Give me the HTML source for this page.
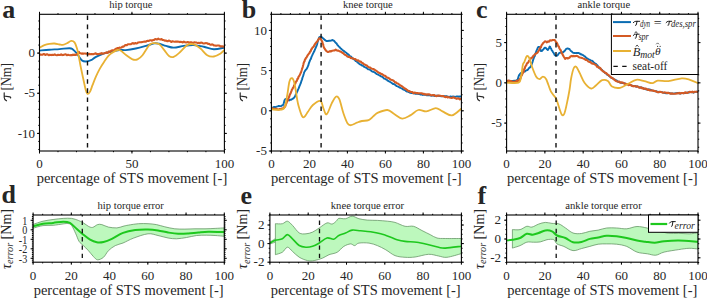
<!DOCTYPE html>
<html><head><meta charset="utf-8"><style>
html,body{margin:0;padding:0;background:#fff;width:707px;height:298px;overflow:hidden}
svg{display:block}
</style></head><body>
<svg width="707" height="298" viewBox="0 0 707 298">
<rect width="707" height="298" fill="#fff"/>
<defs>
<clipPath id="ca"><rect x="39.5" y="14.3" width="184.9" height="136.7"/></clipPath>
<clipPath id="cb"><rect x="271.4" y="14.3" width="190.0" height="136.7"/></clipPath>
<clipPath id="cc"><rect x="506.6" y="14.3" width="191.39999999999998" height="136.7"/></clipPath>
<clipPath id="cd"><rect x="33.1" y="215.0" width="191.20000000000002" height="47.19999999999999"/></clipPath>
<clipPath id="ce"><rect x="269.9" y="215.0" width="191.5" height="47.19999999999999"/></clipPath>
<clipPath id="cf"><rect x="506.6" y="215.0" width="191.39999999999998" height="47.19999999999999"/></clipPath>
</defs>
<g clip-path="url(#ca)">
<path d="M39.50,50.60 C41.15,50.45 46.07,49.95 49.40,49.70 C52.73,49.45 56.15,49.35 59.50,49.10 C62.85,48.85 67.27,48.15 69.50,48.20 C71.73,48.25 71.65,48.50 72.90,49.40 C74.15,50.30 75.53,51.80 77.00,53.60 C78.47,55.40 80.20,58.88 81.70,60.20 C83.20,61.52 84.45,61.50 86.00,61.50 C87.55,61.50 89.33,60.98 91.00,60.20 C92.67,59.42 93.80,57.93 96.00,56.80 C98.20,55.67 101.72,54.25 104.20,53.40 C106.68,52.55 108.38,52.27 110.90,51.70 C113.42,51.13 116.82,50.27 119.30,50.00 C121.78,49.73 123.05,50.35 125.80,50.10 C128.55,49.85 132.45,49.20 135.80,48.50 C139.15,47.80 142.83,46.75 145.90,45.90 C148.97,45.05 151.97,43.75 154.20,43.40 C156.43,43.05 157.33,43.38 159.30,43.80 C161.27,44.22 163.60,45.27 166.00,45.90 C168.40,46.53 170.73,47.60 173.70,47.60 C176.67,47.60 180.45,46.32 183.80,45.90 C187.15,45.48 190.45,44.95 193.80,45.10 C197.15,45.25 200.55,46.10 203.90,46.80 C207.25,47.50 210.48,49.17 213.90,49.30 C217.32,49.43 222.65,47.88 224.40,47.60" stroke="#0A6CB2" stroke-width="1.9" fill="none" stroke-linejoin="round" stroke-linecap="round" />
<path d="M39.50,54.31 L40.07,54.65 L40.74,54.47 L41.51,54.74 L42.36,54.77 L43.29,54.17 L44.29,54.13 L45.34,55.05 L46.44,54.42 L47.58,54.41 L48.75,55.26 L49.94,54.70 L51.14,55.12 L52.34,54.73 L53.53,54.92 L54.71,54.40 L55.86,54.94 L56.97,55.20 L58.04,54.82 L59.05,55.07 L60.00,54.99 L61.15,54.32 L62.30,55.08 L63.46,54.90 L64.62,54.59 L65.77,54.29 L66.90,55.21 L68.01,54.78 L69.09,55.05 L70.14,55.21 L71.15,55.02 L72.11,55.22 L73.02,54.61 L73.87,55.02 L74.65,54.58 L75.37,55.05 L76.00,54.92 L77.96,53.30 L78.48,52.37 L79.00,51.89 L79.35,52.96 L79.70,53.04 L82.00,53.74 L82.65,53.41 L83.40,53.66 L84.26,53.54 L85.20,53.52 L86.22,53.79 L87.30,53.79 L88.44,54.15 L89.61,53.90 L90.81,54.17 L92.03,54.08 L93.25,54.21 L94.47,53.85 L95.66,53.27 L96.83,54.01 L97.95,54.10 L99.02,54.00 L100.02,53.60 L100.94,53.72 L101.77,53.13 L102.50,53.76 L104.37,53.31 L105.63,52.80 L106.51,52.31 L107.21,52.90 L107.97,52.72 L109.00,51.35 L109.85,51.84 L110.74,51.08 L111.66,50.43 L112.60,50.21 L113.56,50.34 L114.53,50.06 L115.50,48.75 L116.46,48.99 L117.40,48.00 L118.45,48.34 L119.50,47.50 L120.55,47.69 L121.61,47.40 L122.66,46.48 L123.71,46.64 L124.75,45.52 L125.80,44.93 L126.84,45.20 L127.88,44.30 L128.92,44.22 L129.95,44.20 L130.98,44.19 L132.02,43.47 L133.06,43.12 L134.10,43.80 L135.15,42.97 L136.19,43.47 L137.24,43.20 L138.29,42.43 L139.35,42.32 L140.40,42.20 L141.45,42.15 L142.50,41.91 L143.55,41.68 L144.60,41.56 L145.65,41.74 L146.70,41.08 L147.75,40.83 L148.80,40.97 L149.85,40.28 L150.90,40.18 L151.95,40.75 L153.02,40.04 L154.08,39.86 L155.14,39.07 L156.20,39.34 L157.25,39.38 L158.28,38.68 L159.30,39.33 L160.42,39.44 L161.48,39.01 L162.53,39.91 L163.58,40.04 L164.65,40.59 L165.79,40.51 L167.00,41.13 L167.88,41.28 L168.77,40.61 L169.67,40.75 L170.59,41.52 L171.54,41.92 L172.52,41.21 L173.55,41.51 L174.64,41.74 L175.78,41.52 L177.00,41.65 L177.87,41.65 L178.78,41.77 L179.75,42.08 L180.75,41.81 L181.78,41.95 L182.83,42.44 L183.90,41.68 L184.98,42.33 L186.05,42.57 L187.12,42.15 L188.18,42.11 L189.21,42.79 L190.21,42.22 L191.18,42.21 L192.10,42.53 L193.30,42.87 L194.47,42.25 L195.60,42.52 L196.71,42.56 L197.79,43.13 L198.84,42.72 L199.88,43.21 L200.90,42.50 L201.91,42.74 L202.91,43.16 L203.90,43.52 L204.97,43.19 L206.01,43.11 L207.02,43.18 L208.01,43.84 L208.98,43.68 L209.95,44.59 L210.92,44.85 L211.90,44.35 L212.89,44.66 L213.90,45.44 L214.98,45.45 L216.14,45.82 L217.34,45.52 L218.57,45.48 L219.78,45.85 L220.93,46.58 L222.01,46.17 L222.96,46.40 L223.77,46.61 L224.40,46.71" stroke="#D45A24" stroke-width="2.1" fill="none" stroke-linejoin="round"/>
<path d="M39.50,47.70 C40.32,47.28 42.75,45.83 44.40,45.20 C46.05,44.57 47.73,44.18 49.40,43.90 C51.07,43.62 52.72,43.40 54.40,43.50 C56.08,43.60 58.10,44.27 59.50,44.50 C60.90,44.73 61.55,45.12 62.80,44.90 C64.05,44.68 65.60,43.87 67.00,43.20 C68.40,42.53 69.95,41.03 71.20,40.90 C72.45,40.77 73.53,41.12 74.50,42.40 C75.47,43.68 76.30,46.33 77.00,48.60 C77.70,50.87 78.08,52.97 78.70,56.00 C79.32,59.03 79.95,63.05 80.70,66.80 C81.45,70.55 82.35,74.60 83.20,78.50 C84.05,82.40 85.10,87.63 85.80,90.20 C86.50,92.77 86.72,93.62 87.40,93.90 C88.08,94.18 89.05,93.35 89.90,91.90 C90.75,90.45 91.52,87.72 92.50,85.20 C93.48,82.68 94.55,79.60 95.80,76.80 C97.05,74.00 98.60,70.92 100.00,68.40 C101.40,65.88 102.80,63.78 104.20,61.70 C105.60,59.62 107.00,57.43 108.40,55.90 C109.80,54.37 111.07,53.48 112.60,52.50 C114.13,51.52 116.20,50.28 117.60,50.00 C119.00,49.72 119.60,49.97 121.00,50.80 C122.40,51.63 124.08,53.58 126.00,55.00 C127.92,56.42 130.58,58.58 132.50,59.30 C134.42,60.02 135.83,59.98 137.50,59.30 C139.17,58.62 140.55,57.57 142.50,55.20 C144.45,52.83 147.38,47.12 149.20,45.10 C151.02,43.08 151.72,43.23 153.40,43.10 C155.08,42.97 157.48,43.13 159.30,44.30 C161.12,45.47 162.68,48.15 164.30,50.10 C165.92,52.05 167.43,54.88 169.00,56.00 C170.57,57.12 171.80,57.50 173.70,56.80 C175.60,56.10 178.17,53.75 180.40,51.80 C182.63,49.85 184.87,46.35 187.10,45.10 C189.33,43.85 191.57,43.73 193.80,44.30 C196.03,44.87 198.27,46.68 200.50,48.50 C202.73,50.32 204.97,53.87 207.20,55.20 C209.43,56.53 211.67,56.78 213.90,56.50 C216.13,56.22 218.85,54.57 220.60,53.50 C222.35,52.43 223.77,50.67 224.40,50.10" stroke="#E8B133" stroke-width="1.8" fill="none" stroke-linejoin="round" stroke-linecap="round" />
<line x1="87.5" y1="15.5" x2="87.5" y2="151.0" stroke="#111" stroke-width="1.4" stroke-dasharray="4.6,4.5" stroke-dashoffset="0"/>
</g>
<g clip-path="url(#cb)">
<path d="M271.40,108.14 L272.10,108.25 L273.08,107.37 L274.24,106.86 L275.46,107.10 L276.65,106.67 L277.70,106.44 L278.82,105.88 L279.91,106.20 L280.94,106.15 L281.88,105.48 L282.70,105.37 L283.24,104.68 L283.66,103.50 L284.00,102.21 L284.33,100.88 L284.71,99.93 L285.20,99.21 L286.11,98.93 L287.14,99.71 L288.25,99.98 L289.40,100.42 L290.22,99.61 L291.10,99.81 L292.01,99.15 L292.90,98.70 L293.74,97.97 L294.50,97.18 L295.07,96.19 L295.57,94.94 L296.03,94.53 L296.47,93.14 L296.90,92.20 L297.34,91.39 L297.80,90.22 L298.17,89.29 L298.55,88.79 L298.93,87.67 L299.31,86.57 L299.69,85.57 L300.07,85.04 L300.45,83.80 L300.83,83.01 L301.20,81.70 L301.54,80.62 L301.88,79.80 L302.22,78.90 L302.57,77.33 L302.91,76.64 L303.24,75.63 L303.57,74.50 L303.89,73.54 L304.20,72.10 L304.50,71.79 L305.14,70.82 L305.69,69.77 L306.27,69.43 L307.00,68.24 L307.31,67.73 L307.65,66.85 L308.00,66.00 L308.37,65.26 L308.75,63.70 L309.14,62.68 L309.54,61.66 L309.95,60.57 L310.36,59.46 L310.78,59.04 L311.20,57.95 L311.63,56.42 L312.08,55.72 L312.55,54.59 L313.03,53.58 L313.51,52.60 L313.99,51.81 L314.47,50.77 L314.93,49.62 L315.38,48.51 L315.80,47.64 L316.20,46.54 L316.60,45.75 L316.98,44.71 L317.34,43.28 L317.68,41.88 L318.00,40.79 L318.32,39.83 L318.63,38.99 L318.95,38.24 L319.27,37.24 L319.60,37.01 L320.74,36.53 L321.87,37.32 L323.00,38.31 L323.85,39.02 L324.69,39.89 L325.52,40.37 L326.30,41.04 L327.59,41.06 L329.00,40.72 L329.97,40.75 L331.06,40.60 L332.18,39.99 L333.20,40.35 L334.11,40.84 L334.96,41.92 L335.75,42.85 L336.50,43.31 L337.12,44.48 L337.64,45.23 L338.21,45.72 L339.00,46.77 L339.68,47.17 L340.45,48.30 L341.29,48.86 L342.19,49.72 L343.13,50.40 L344.10,51.12 L344.85,51.81 L345.62,52.36 L346.42,52.74 L347.24,53.81 L348.09,54.14 L348.97,55.00 L349.87,56.21 L350.80,56.48 L351.57,57.16 L352.37,57.83 L353.20,59.06 L354.04,59.27 L354.90,59.86 L355.77,61.13 L356.63,61.31 L357.50,62.49 L358.36,63.01 L359.20,63.74 L360.12,64.45 L361.02,64.78 L361.91,65.50 L362.80,65.51 L363.69,66.56 L364.60,66.92 L365.54,67.60 L366.50,67.74 L367.50,68.77 L368.37,69.41 L369.28,69.34 L370.24,70.07 L371.22,70.80 L372.21,71.55 L373.20,71.71 L374.17,72.21 L375.11,72.80 L376.00,73.56 L376.84,74.14 L377.60,74.33 L378.73,74.96 L379.57,75.46 L380.29,75.85 L381.06,76.35 L382.04,76.70 L383.40,77.80 L384.07,78.54 L384.81,78.59 L385.59,79.31 L386.43,79.42 L387.30,80.34 L388.21,80.95 L389.14,81.47 L390.10,81.95 L391.07,82.52 L392.04,83.23 L393.02,84.00 L393.99,84.05 L394.95,84.57 L395.89,85.56 L396.80,86.19 L397.70,86.41 L398.60,86.86 L399.50,87.56 L400.40,87.69 L401.30,88.24 L402.20,88.69 L403.10,89.45 L404.00,89.73 L404.90,90.13 L405.80,90.89 L406.70,91.50 L407.60,91.43 L408.50,92.09 L409.40,92.23 L410.30,92.85 L411.33,92.97 L412.37,93.02 L413.40,93.22 L414.43,93.28 L415.46,93.77 L416.49,93.85 L417.52,93.83 L418.55,94.08 L419.58,94.15 L420.61,94.57 L421.64,94.23 L422.67,94.93 L423.70,94.69 L424.73,94.89 L425.76,94.90 L426.79,95.26 L427.82,95.35 L428.85,95.25 L429.88,95.28 L430.92,95.52 L431.95,95.69 L432.98,95.45 L434.01,95.75 L435.04,95.98 L436.07,95.71 L437.10,95.61 L438.14,95.69 L439.19,96.10 L440.25,96.14 L441.31,96.42 L442.37,96.41 L443.43,96.05 L444.49,96.08 L445.54,96.20 L446.57,96.20 L447.59,96.62 L448.58,96.78 L449.55,96.85 L450.50,96.43 L451.73,96.89 L453.00,96.52 L454.27,96.61 L455.53,96.82 L456.74,96.36 L457.88,96.35 L458.94,96.86 L459.87,96.47 L460.67,96.50 L461.30,96.66" stroke="#0A6CB2" stroke-width="1.9" fill="none" stroke-linejoin="round"/>
<path d="M271.40,108.78 L272.03,108.13 L272.86,108.53 L273.86,108.72 L274.98,108.87 L276.17,108.69 L277.41,109.14 L278.64,109.55 L279.82,108.97 L280.92,109.05 L281.90,108.47 L282.70,108.37 L283.67,108.19 L284.42,106.89 L285.00,106.76 L285.47,105.77 L285.91,103.85 L286.36,103.54 L286.90,101.77 L287.32,101.30 L287.73,100.35 L288.13,98.91 L288.54,98.28 L288.95,97.21 L289.36,96.30 L289.78,94.70 L290.21,94.12 L290.65,93.28 L291.10,91.97 L291.52,90.92 L291.96,89.59 L292.40,89.06 L292.86,88.01 L293.31,87.47 L293.78,86.53 L294.24,85.51 L294.71,84.21 L295.17,83.77 L295.64,82.84 L296.10,81.48 L296.57,81.28 L297.05,80.13 L297.53,78.69 L298.02,78.59 L298.51,76.89 L299.00,76.17 L299.47,75.64 L299.94,74.60 L300.38,73.63 L300.80,72.79 L301.20,71.66 L301.56,70.55 L301.89,69.43 L302.18,68.33 L302.46,67.97 L302.73,67.00 L302.99,65.78 L303.25,64.98 L303.53,63.62 L303.82,62.57 L304.14,61.77 L304.50,61.37 L304.98,59.51 L305.50,58.99 L306.04,57.78 L306.61,57.38 L307.18,56.06 L307.77,55.16 L308.36,54.35 L308.94,53.62 L309.50,52.97 L310.06,51.67 L310.61,51.29 L311.16,49.69 L311.72,49.00 L312.27,47.98 L312.83,47.15 L313.38,46.99 L313.94,46.13 L314.50,44.78 L315.15,43.84 L315.83,43.04 L316.52,42.32 L317.21,41.38 L317.87,40.38 L318.51,39.44 L319.09,38.39 L319.60,38.30 L320.41,38.16 L321.01,39.29 L321.54,40.55 L322.10,41.50 L322.45,42.37 L322.79,43.86 L323.12,44.16 L323.47,46.02 L323.82,47.15 L324.20,48.16 L324.60,48.38 L325.29,49.67 L325.98,50.59 L326.83,51.28 L328.00,51.98 L328.90,51.69 L329.97,51.13 L331.14,51.41 L332.36,50.70 L333.57,50.50 L334.70,50.40 L335.70,49.60 L336.87,50.48 L337.89,50.64 L338.82,50.84 L339.74,51.33 L340.70,51.76 L341.53,51.96 L342.33,52.84 L343.14,52.94 L343.98,54.01 L344.86,54.77 L345.80,55.14 L346.67,55.75 L347.60,56.63 L348.56,57.06 L349.54,56.78 L350.54,57.91 L351.53,58.19 L352.50,58.05 L353.44,58.74 L354.37,58.93 L355.29,59.07 L356.22,59.83 L357.17,60.56 L358.16,60.34 L359.20,61.37 L360.04,61.64 L360.90,61.56 L361.78,62.81 L362.68,63.10 L363.60,64.01 L364.54,64.39 L365.50,65.02 L366.49,65.23 L367.50,66.31 L368.37,66.94 L369.28,67.42 L370.24,67.55 L371.22,68.45 L372.21,68.76 L373.20,68.96 L374.17,69.46 L375.11,70.04 L376.00,70.68 L376.84,71.12 L377.60,71.90 L378.73,72.73 L379.57,73.02 L380.29,73.28 L381.06,73.92 L382.04,74.12 L383.40,75.06 L384.07,75.75 L384.81,75.83 L385.59,76.08 L386.43,77.30 L387.30,77.64 L388.21,77.83 L389.14,78.40 L390.10,79.13 L391.07,79.79 L392.04,80.01 L393.02,80.38 L393.99,81.18 L394.95,82.34 L395.89,82.28 L396.80,83.16 L397.64,83.43 L398.48,84.00 L399.33,84.55 L400.17,85.37 L401.01,85.74 L401.86,86.20 L402.70,86.89 L403.55,87.54 L404.40,88.45 L405.24,88.59 L406.09,89.10 L406.93,90.04 L407.77,90.49 L408.62,91.24 L409.46,90.99 L410.30,91.70 L411.33,92.07 L412.37,92.01 L413.40,93.20 L414.43,92.65 L415.46,92.68 L416.49,93.19 L417.52,92.98 L418.55,93.53 L419.58,93.33 L420.61,93.19 L421.64,93.20 L422.67,93.99 L423.70,93.68 L424.73,94.34 L425.76,94.17 L426.79,94.79 L427.82,94.31 L428.85,94.41 L429.88,94.57 L430.92,95.27 L431.95,95.23 L432.98,95.09 L434.01,94.98 L435.04,95.71 L436.07,96.13 L437.10,95.89 L438.14,95.44 L439.19,95.59 L440.25,95.77 L441.31,95.97 L442.37,95.96 L443.43,96.10 L444.49,96.81 L445.54,97.18 L446.57,96.60 L447.59,97.49 L448.58,97.12 L449.55,97.57 L450.50,97.82 L451.73,98.03 L453.00,97.33 L454.27,97.81 L455.53,98.34 L456.74,98.90 L457.88,98.25 L458.94,98.65 L459.87,99.39 L460.67,98.80 L461.30,99.19" stroke="#D45A24" stroke-width="2.1" fill="none" stroke-linejoin="round"/>
<path d="M271.40,109.30 C273.43,109.22 281.02,110.87 283.60,108.80 C286.18,106.73 285.93,101.40 286.90,96.90 C287.87,92.40 288.55,84.93 289.40,81.80 C290.25,78.67 291.15,77.82 292.00,78.10 C292.85,78.38 293.67,80.10 294.50,83.50 C295.33,86.90 296.32,94.75 297.00,98.50 C297.68,102.25 297.77,103.08 298.60,106.00 C299.43,108.92 301.02,114.20 302.00,116.00 C302.98,117.80 303.52,117.50 304.50,116.80 C305.48,116.10 306.50,113.77 307.90,111.80 C309.30,109.83 310.82,106.82 312.90,105.00 C314.98,103.18 318.65,100.33 320.40,100.90 C322.15,101.47 322.35,106.17 323.40,108.40 C324.45,110.63 325.32,115.13 326.70,114.30 C328.08,113.47 330.17,106.33 331.70,103.40 C333.23,100.47 334.63,97.40 335.90,96.70 C337.17,96.00 338.03,96.40 339.30,99.20 C340.57,102.00 342.12,109.45 343.50,113.50 C344.88,117.55 346.35,121.55 347.60,123.50 C348.85,125.45 349.45,125.33 351.00,125.20 C352.55,125.07 355.08,123.40 356.90,122.70 C358.72,122.00 359.95,121.42 361.90,121.00 C363.85,120.58 366.65,121.03 368.60,120.20 C370.55,119.37 372.03,117.25 373.60,116.00 C375.17,114.75 375.70,113.70 378.00,112.70 C380.30,111.70 384.70,109.78 387.40,110.00 C390.10,110.22 391.73,112.57 394.20,114.00 C396.67,115.43 399.52,118.37 402.20,118.60 C404.88,118.83 407.62,116.83 410.30,115.40 C412.98,113.97 415.62,110.67 418.30,110.00 C420.98,109.33 423.48,111.72 426.40,111.40 C429.32,111.08 433.12,108.10 435.80,108.10 C438.48,108.10 439.82,110.18 442.50,111.40 C445.18,112.62 448.77,115.85 451.90,115.40 C455.03,114.95 459.73,109.82 461.30,108.70" stroke="#E8B133" stroke-width="1.8" fill="none" stroke-linejoin="round" stroke-linecap="round" />
<line x1="321.1" y1="15.5" x2="321.1" y2="151.0" stroke="#111" stroke-width="1.4" stroke-dasharray="4.6,4.5" stroke-dashoffset="0"/>
</g>
<g clip-path="url(#cc)">
<path d="M506.60,80.77 L507.28,81.03 L508.21,81.21 L509.33,80.58 L510.57,81.01 L511.86,80.97 L513.11,81.02 L514.27,80.75 L515.26,81.00 L516.00,80.49 L517.12,80.50 L517.40,79.58 L517.75,79.26 L518.13,77.97 L518.54,76.60 L519.00,75.30 L519.52,74.64 L520.10,73.68 L520.90,73.13 L521.80,72.49 L522.77,72.31 L523.78,71.74 L524.80,71.67 L525.56,70.63 L526.37,70.48 L527.20,70.15 L528.03,69.47 L528.84,68.30 L529.60,67.61 L530.30,67.17 L530.79,66.20 L531.23,65.50 L531.63,64.53 L532.02,63.18 L532.39,62.48 L532.77,61.25 L533.15,59.81 L533.56,58.72 L534.00,57.36 L534.39,56.63 L534.81,55.98 L535.24,54.12 L535.68,53.27 L536.13,51.69 L536.58,50.48 L537.02,49.83 L537.45,48.51 L537.86,47.51 L538.25,46.94 L538.60,46.92 L539.26,46.90 L539.81,47.46 L540.31,49.07 L540.82,50.97 L541.40,50.98 L542.08,50.92 L542.82,49.93 L543.58,49.13 L544.32,48.04 L545.00,47.73 L546.03,48.21 L546.96,49.34 L547.80,50.04 L548.47,48.97 L549.04,47.88 L549.70,46.49 L550.17,46.79 L550.67,48.35 L551.21,48.81 L551.78,50.50 L552.40,50.87 L553.08,52.20 L553.81,53.18 L554.57,54.78 L555.34,55.47 L556.10,55.91 L557.04,55.68 L558.00,54.79 L558.93,53.24 L559.80,52.68 L561.17,52.56 L562.70,52.19 L563.41,52.22 L564.21,51.20 L565.06,50.44 L565.95,49.07 L566.84,48.69 L567.70,48.37 L568.53,48.83 L569.33,48.94 L570.14,50.01 L570.98,51.05 L571.86,51.56 L572.80,52.54 L573.82,52.99 L574.91,52.85 L576.05,53.06 L577.21,53.06 L578.36,52.87 L579.50,53.28 L580.44,54.22 L581.37,54.20 L582.29,54.87 L583.22,55.24 L584.17,56.02 L585.16,56.66 L586.20,57.94 L587.05,58.28 L587.93,58.89 L588.84,59.47 L589.77,59.67 L590.72,60.45 L591.67,60.68 L592.62,61.18 L593.56,62.25 L594.50,62.92 L595.25,63.59 L595.98,63.90 L596.69,64.85 L597.40,65.31 L598.12,66.56 L598.85,67.30 L599.59,67.61 L600.36,68.94 L601.16,69.15 L602.01,69.89 L602.90,71.18 L603.64,71.46 L604.42,72.29 L605.22,73.06 L606.05,73.26 L606.90,74.51 L607.77,74.82 L608.65,75.62 L609.53,76.22 L610.42,77.19 L611.30,77.82 L612.18,78.05 L613.04,78.47 L613.88,79.16 L614.70,79.73 L615.72,80.01 L616.73,80.56 L617.72,81.48 L618.71,81.82 L619.68,82.40 L620.65,82.72 L621.62,82.94 L622.59,82.83 L623.56,82.95 L624.53,83.35 L625.50,83.77 L626.48,84.12 L627.45,84.40 L628.43,84.52 L629.40,85.16 L630.37,84.94 L631.34,85.32 L632.31,85.88 L633.28,86.04 L634.26,85.86 L635.23,86.05 L636.20,86.75 L637.17,86.35 L638.14,86.70 L639.12,87.26 L640.09,87.51 L641.06,87.47 L642.03,87.62 L643.00,87.99 L643.97,88.69 L644.95,88.69 L645.92,89.34 L646.90,89.43 L647.88,89.83 L648.86,89.32 L649.84,89.70 L650.82,89.81 L651.81,90.40 L652.79,90.58 L653.78,90.59 L654.76,91.22 L655.74,91.08 L656.72,91.46 L657.70,91.60 L658.77,92.24 L659.85,92.11 L660.92,92.16 L661.99,92.15 L663.06,92.61 L664.12,92.90 L665.19,93.06 L666.26,93.36 L667.33,93.37 L668.40,93.00 L669.47,92.97 L670.54,93.51 L671.61,93.56 L672.68,93.35 L673.74,93.60 L674.81,93.37 L675.88,93.13 L676.95,93.01 L678.03,92.85 L679.10,93.31 L680.19,93.47 L681.30,93.41 L682.42,92.99 L683.54,93.06 L684.66,93.18 L685.77,93.00 L686.86,92.73 L687.91,92.49 L688.93,92.49 L689.90,92.14 L691.10,92.06 L692.30,92.37 L693.49,92.53 L694.62,92.09 L695.67,91.90 L696.61,91.78 L697.39,91.81 L698.00,92.04" stroke="#0A6CB2" stroke-width="1.9" fill="none" stroke-linejoin="round"/>
<path d="M506.60,80.85 L507.22,81.43 L508.04,80.60 L509.01,80.86 L510.11,81.17 L511.28,81.14 L512.50,81.69 L513.70,81.69 L514.87,81.80 L515.95,81.38 L516.91,80.61 L517.70,80.98 L518.66,80.46 L519.40,79.74 L519.98,78.75 L520.46,78.34 L520.90,77.59 L521.36,75.66 L521.90,75.19 L522.32,74.02 L522.73,73.26 L523.13,72.68 L523.54,71.72 L523.95,70.31 L524.36,68.75 L524.78,68.50 L525.21,66.67 L525.65,65.94 L526.10,65.56 L526.68,64.01 L527.25,63.06 L527.84,62.96 L528.44,62.14 L529.07,60.68 L529.71,59.98 L530.39,59.08 L531.10,58.09 L531.77,57.49 L532.49,57.59 L533.24,55.90 L534.01,55.36 L534.78,54.62 L535.56,53.76 L536.33,53.49 L537.08,52.92 L537.80,52.17 L538.43,51.09 L539.06,50.34 L539.68,48.42 L540.30,47.66 L540.91,47.34 L541.50,45.32 L542.08,44.57 L542.64,43.92 L543.18,42.94 L543.70,42.65 L544.89,41.33 L545.96,41.44 L546.95,42.37 L547.90,41.41 L549.06,41.67 L550.13,40.20 L551.20,40.64 L552.33,40.08 L553.47,40.06 L554.60,40.01 L555.26,40.54 L555.92,42.15 L556.58,42.51 L557.24,43.62 L557.90,45.45 L558.38,46.37 L558.85,46.38 L559.32,48.34 L559.80,48.87 L560.29,49.71 L560.79,50.40 L561.30,51.68 L561.80,53.36 L562.27,53.72 L562.74,54.71 L563.24,55.82 L563.80,56.77 L564.44,57.77 L565.20,58.86 L565.97,58.03 L566.82,57.98 L567.75,58.43 L568.73,58.00 L569.74,57.46 L570.76,56.16 L571.79,55.91 L572.80,56.40 L573.80,55.88 L574.82,56.20 L575.86,55.92 L576.90,55.81 L577.95,56.43 L579.00,57.18 L580.05,57.55 L581.10,57.68 L582.03,57.91 L582.96,58.37 L583.89,58.69 L584.83,59.24 L585.76,60.04 L586.70,59.84 L587.63,60.78 L588.57,61.66 L589.50,62.08 L590.43,61.86 L591.37,63.25 L592.30,63.64 L593.23,63.44 L594.17,64.11 L595.10,64.62 L596.03,65.05 L596.97,66.68 L597.90,66.70 L598.74,67.82 L599.58,67.62 L600.42,68.17 L601.26,69.79 L602.10,70.40 L602.94,71.31 L603.78,71.67 L604.62,72.19 L605.46,73.13 L606.30,73.05 L607.13,74.20 L607.94,74.76 L608.74,75.10 L609.54,76.27 L610.35,76.62 L611.17,77.47 L612.00,77.95 L612.87,78.49 L613.76,79.11 L614.70,79.91 L615.59,80.78 L616.52,81.16 L617.48,81.49 L618.45,81.85 L619.45,81.61 L620.46,82.72 L621.48,82.28 L622.50,82.45 L623.51,83.18 L624.51,83.75 L625.50,83.63 L626.48,84.25 L627.45,84.13 L628.43,85.14 L629.40,84.83 L630.37,85.09 L631.34,85.38 L632.31,85.99 L633.28,86.33 L634.26,86.06 L635.23,86.20 L636.20,86.63 L637.17,86.27 L638.14,86.91 L639.12,87.62 L640.09,87.79 L641.06,87.25 L642.03,88.37 L643.00,88.10 L643.97,89.00 L644.95,88.57 L645.92,88.64 L646.90,89.25 L647.88,89.87 L648.86,89.62 L649.84,90.35 L650.82,90.44 L651.81,90.30 L652.79,90.49 L653.78,90.95 L654.76,91.07 L655.74,91.26 L656.72,91.78 L657.70,92.21 L658.77,92.09 L659.85,91.79 L660.92,92.04 L661.99,92.37 L663.06,92.79 L664.12,92.40 L665.19,92.46 L666.26,92.83 L667.33,92.88 L668.40,92.68 L669.47,93.30 L670.54,93.77 L671.61,93.37 L672.68,93.60 L673.74,93.70 L674.81,93.70 L675.88,93.76 L676.95,93.21 L678.03,93.44 L679.10,92.78 L680.19,93.57 L681.30,92.95 L682.42,92.99 L683.54,93.36 L684.66,92.60 L685.77,92.40 L686.86,93.01 L687.91,92.67 L688.93,92.02 L689.90,91.88 L691.10,92.15 L692.30,91.68 L693.49,92.50 L694.62,91.70 L695.67,91.72 L696.61,91.78 L697.39,91.86 L698.00,91.73" stroke="#D45A24" stroke-width="2.1" fill="none" stroke-linejoin="round"/>
<path d="M506.60,82.60 C508.60,82.60 516.18,83.58 518.60,82.60 C521.02,81.62 520.40,79.63 521.10,76.70 C521.80,73.77 522.25,67.47 522.80,65.00 C523.35,62.53 523.72,63.40 524.40,61.90 C525.08,60.40 526.05,56.57 526.90,56.00 C527.75,55.43 528.65,56.72 529.50,58.50 C530.35,60.28 530.88,63.67 532.00,66.70 C533.12,69.73 534.95,74.62 536.20,76.70 C537.45,78.78 538.38,79.20 539.50,79.20 C540.62,79.20 541.78,76.70 542.90,76.70 C544.02,76.70 544.85,76.70 546.20,79.20 C547.55,81.70 549.37,88.50 551.00,91.70 C552.63,94.90 554.60,95.60 556.00,98.40 C557.40,101.20 558.42,105.77 559.40,108.50 C560.38,111.23 561.07,113.97 561.90,114.80 C562.73,115.63 563.57,115.40 564.40,113.50 C565.23,111.60 566.05,107.32 566.90,103.40 C567.75,99.48 568.80,94.15 569.50,90.00 C570.20,85.85 570.42,82.08 571.10,78.50 C571.78,74.92 572.77,70.45 573.60,68.50 C574.43,66.55 575.12,66.12 576.10,66.80 C577.08,67.48 578.10,69.95 579.50,72.60 C580.90,75.25 582.55,80.05 584.50,82.70 C586.45,85.35 589.25,88.08 591.20,88.50 C593.15,88.92 594.38,86.58 596.20,85.20 C598.02,83.82 600.15,80.90 602.10,80.20 C604.05,79.50 606.25,79.95 607.90,81.00 C609.55,82.05 609.97,85.37 612.00,86.50 C614.03,87.63 617.40,88.25 620.10,87.80 C622.80,87.35 625.52,85.13 628.20,83.80 C630.88,82.47 633.52,80.25 636.20,79.80 C638.88,79.35 641.62,80.53 644.30,81.10 C646.98,81.67 650.07,83.28 652.30,83.20 C654.53,83.12 655.02,80.95 657.70,80.60 C660.38,80.25 664.38,81.47 668.40,81.10 C672.42,80.73 678.22,78.62 681.80,78.40 C685.38,78.18 687.20,79.00 689.90,79.80 C692.60,80.60 696.65,82.63 698.00,83.20" stroke="#E8B133" stroke-width="1.8" fill="none" stroke-linejoin="round" stroke-linecap="round" />
<line x1="556.0" y1="15.5" x2="556.0" y2="151.0" stroke="#111" stroke-width="1.4" stroke-dasharray="4.6,4.5" stroke-dashoffset="0"/>
</g>
<g clip-path="url(#cd)">
<path d="M33.10,224.40 C34.75,223.87 39.67,222.02 43.00,221.20 C46.33,220.38 49.73,219.97 53.10,219.50 C56.47,219.03 60.12,218.58 63.20,218.40 C66.28,218.22 69.08,218.07 71.60,218.40 C74.12,218.73 76.33,219.65 78.30,220.40 C80.27,221.15 81.72,221.92 83.40,222.90 C85.08,223.88 86.87,225.55 88.40,226.30 C89.93,227.05 91.07,227.68 92.60,227.40 C94.13,227.12 96.07,225.07 97.60,224.60 C99.13,224.13 99.98,224.18 101.80,224.60 C103.62,225.02 105.98,226.55 108.50,227.10 C111.02,227.65 114.48,228.03 116.90,227.90 C119.32,227.77 121.07,226.77 123.00,226.30 C124.93,225.83 125.90,225.53 128.50,225.10 C131.10,224.67 135.35,223.93 138.60,223.70 C141.85,223.47 145.03,223.55 148.00,223.70 C150.97,223.85 153.60,224.08 156.40,224.60 C159.20,225.12 161.73,226.10 164.80,226.80 C167.87,227.50 171.45,228.42 174.80,228.80 C178.15,229.18 181.53,229.10 184.90,229.10 C188.27,229.10 191.65,228.85 195.00,228.80 C198.35,228.75 201.65,228.87 205.00,228.80 C208.35,228.73 211.88,228.55 215.10,228.40 C218.32,228.25 222.77,227.98 224.30,227.90 L224.30,236.30 C222.77,236.17 218.03,235.68 215.10,235.50 C212.17,235.32 209.77,235.20 206.70,235.20 C203.63,235.20 200.05,235.12 196.70,235.50 C193.35,235.88 189.97,236.95 186.60,237.50 C183.23,238.05 179.58,238.72 176.50,238.80 C173.42,238.88 171.18,238.55 168.10,238.00 C165.02,237.45 161.35,236.20 158.00,235.50 C154.65,234.80 152.07,233.37 148.00,233.80 C143.93,234.23 137.77,236.57 133.60,238.10 C129.43,239.63 126.05,241.75 123.00,243.00 C119.95,244.25 117.72,244.33 115.30,245.60 C112.88,246.87 110.47,248.65 108.50,250.60 C106.53,252.55 105.32,255.77 103.50,257.30 C101.68,258.83 99.28,259.93 97.60,259.80 C95.92,259.67 94.93,258.03 93.40,256.50 C91.87,254.97 90.07,252.42 88.40,250.60 C86.73,248.78 84.95,247.13 83.40,245.60 C81.85,244.07 80.37,243.37 79.10,241.40 C77.83,239.43 77.05,236.47 75.80,233.80 C74.55,231.13 72.87,227.10 71.60,225.40 C70.33,223.70 69.60,223.85 68.20,223.60 C66.80,223.35 65.72,223.62 63.20,223.90 C60.68,224.18 56.47,225.02 53.10,225.30 C49.73,225.58 46.33,225.12 43.00,225.60 C39.67,226.08 34.75,227.77 33.10,228.20 Z" fill="#BDF8BD" stroke="#5F905F" stroke-width="0.75"/>
<path d="M33.10,226.30 C34.75,225.87 39.67,224.27 43.00,223.70 C46.33,223.13 49.73,223.23 53.10,222.90 C56.47,222.57 60.40,221.70 63.20,221.70 C66.00,221.70 67.67,221.72 69.90,222.90 C72.13,224.08 74.35,226.83 76.60,228.80 C78.85,230.77 81.15,232.88 83.40,234.70 C85.65,236.52 87.87,238.45 90.10,239.70 C92.33,240.95 94.57,241.83 96.80,242.20 C99.03,242.57 100.98,242.47 103.50,241.90 C106.02,241.33 108.65,240.30 111.90,238.80 C115.15,237.30 119.12,234.35 123.00,232.90 C126.88,231.45 131.03,230.65 135.20,230.10 C139.37,229.55 144.20,229.53 148.00,229.60 C151.80,229.67 154.65,230.02 158.00,230.50 C161.35,230.98 164.73,231.95 168.10,232.50 C171.47,233.05 174.83,233.63 178.20,233.80 C181.57,233.97 184.95,233.72 188.30,233.50 C191.65,233.28 194.95,232.78 198.30,232.50 C201.65,232.22 204.07,231.87 208.40,231.80 C212.73,231.73 221.65,232.05 224.30,232.10" stroke="#1EC81E" stroke-width="2.0" fill="none" stroke-linejoin="round" stroke-linecap="round" />
<line x1="82.3" y1="215.0" x2="82.3" y2="262.2" stroke="#111" stroke-width="1.3" stroke-dasharray="4.4,3.9" stroke-dashoffset="2.8"/>
</g>
<g clip-path="url(#ce)">
<path d="M269.9,242.0 L275.4,238.6 L275.4,242.2 L269.9,244.0Z" fill="#BDF8BD" stroke="#5F905F" stroke-width="0.6"/>
<path d="M275.40,223.70 C276.57,223.70 280.40,224.12 282.40,223.70 C284.40,223.28 285.72,220.92 287.40,221.20 C289.08,221.48 290.53,223.45 292.50,225.40 C294.47,227.35 296.97,231.50 299.20,232.90 C301.43,234.30 303.67,233.93 305.90,233.80 C308.13,233.67 310.37,233.08 312.60,232.10 C314.83,231.12 316.90,229.43 319.30,227.90 C321.70,226.37 324.88,223.53 327.00,222.90 C329.12,222.27 330.47,224.38 332.00,224.10 C333.53,223.82 335.07,222.15 336.20,221.20 C337.33,220.25 337.25,218.82 338.80,218.40 C340.35,217.98 343.27,219.07 345.50,218.70 C347.73,218.33 349.97,216.20 352.20,216.20 C354.43,216.20 356.38,218.05 358.90,218.70 C361.42,219.35 364.22,219.82 367.30,220.10 C370.38,220.38 374.05,220.22 377.40,220.40 C380.75,220.58 384.47,220.87 387.40,221.20 C390.33,221.53 392.05,221.55 395.00,222.40 C397.95,223.25 402.02,225.65 405.10,226.30 C408.18,226.95 410.70,225.60 413.50,226.30 C416.30,227.00 419.10,229.10 421.90,230.50 C424.70,231.90 427.78,233.45 430.30,234.70 C432.82,235.95 434.48,237.37 437.00,238.00 C439.52,238.63 441.33,238.42 445.40,238.50 C449.47,238.58 458.73,238.50 461.40,238.50 L461.40,253.60 C459.00,254.22 450.80,256.90 447.00,257.30 C443.20,257.70 441.67,256.50 438.60,256.00 C435.53,255.50 432.52,254.13 428.60,254.30 C424.68,254.47 419.02,256.50 415.10,257.00 C411.18,257.50 408.45,257.53 405.10,257.30 C401.75,257.07 398.22,256.85 395.00,255.60 C391.78,254.35 388.73,251.47 385.80,249.80 C382.87,248.13 380.20,246.72 377.40,245.60 C374.60,244.48 372.08,243.52 369.00,243.10 C365.92,242.68 361.28,242.68 358.90,243.10 C356.52,243.52 356.10,245.47 354.70,245.60 C353.30,245.73 352.32,243.77 350.50,243.90 C348.68,244.03 346.03,245.00 343.80,246.40 C341.57,247.80 339.57,250.92 337.10,252.30 C334.63,253.68 331.42,253.73 329.00,254.70 C326.58,255.67 325.07,257.12 322.60,258.10 C320.13,259.08 316.72,260.18 314.20,260.60 C311.68,261.02 310.00,261.17 307.50,260.60 C305.00,260.03 301.70,258.73 299.20,257.20 C296.70,255.67 294.47,253.07 292.50,251.40 C290.53,249.73 289.08,247.07 287.40,247.20 C285.72,247.33 284.40,250.95 282.40,252.20 C280.40,253.45 276.57,254.28 275.40,254.70 Z" fill="#BDF8BD" stroke="#5F905F" stroke-width="0.75"/>
<path d="M269.90,243.00 C270.82,242.55 273.32,241.00 275.40,240.30 C277.48,239.60 280.40,239.75 282.40,238.80 C284.40,237.85 285.72,234.60 287.40,234.60 C289.08,234.60 290.53,236.98 292.50,238.80 C294.47,240.62 296.97,244.10 299.20,245.50 C301.43,246.90 303.67,247.07 305.90,247.20 C308.13,247.33 310.37,247.00 312.60,246.30 C314.83,245.60 316.90,244.38 319.30,243.00 C321.70,241.62 324.60,238.63 327.00,238.00 C329.40,237.37 331.73,239.62 333.70,239.20 C335.67,238.78 336.83,236.53 338.80,235.50 C340.77,234.47 343.27,233.90 345.50,233.00 C347.73,232.10 349.68,230.47 352.20,230.10 C354.72,229.73 357.53,230.52 360.60,230.80 C363.67,231.08 367.25,231.30 370.60,231.80 C373.95,232.30 377.33,232.90 380.70,233.80 C384.07,234.70 388.08,236.22 390.80,237.20 C393.52,238.18 394.62,239.00 397.00,239.70 C399.38,240.40 401.80,240.98 405.10,241.40 C408.40,241.82 412.88,241.65 416.80,242.20 C420.72,242.75 424.97,243.85 428.60,244.70 C432.23,245.55 435.80,246.73 438.60,247.30 C441.40,247.87 441.60,248.28 445.40,248.10 C449.20,247.92 458.73,246.52 461.40,246.20" stroke="#1EC81E" stroke-width="1.6" fill="none" stroke-linejoin="round" stroke-linecap="round" />
<line x1="319.5" y1="215.0" x2="319.5" y2="262.2" stroke="#111" stroke-width="1.3" stroke-dasharray="4.4,3.9" stroke-dashoffset="2.8"/>
</g>
<g clip-path="url(#cf)">
<path d="M512.40,229.60 C513.68,229.60 517.70,230.15 520.10,229.60 C522.50,229.05 524.83,226.72 526.80,226.30 C528.77,225.88 529.93,227.47 531.90,227.10 C533.87,226.73 536.37,224.88 538.60,224.10 C540.83,223.32 543.07,222.52 545.30,222.40 C547.53,222.28 549.77,223.17 552.00,223.40 C554.23,223.63 556.47,223.05 558.70,223.80 C560.93,224.55 563.02,226.37 565.40,227.90 C567.78,229.43 570.33,232.07 573.00,233.00 C575.67,233.93 578.60,233.78 581.40,233.50 C584.20,233.22 587.00,231.87 589.80,231.30 C592.60,230.73 595.40,230.65 598.20,230.10 C601.00,229.55 603.53,228.35 606.60,228.00 C609.67,227.65 613.25,227.87 616.60,228.00 C619.95,228.13 623.30,229.05 626.70,228.80 C630.10,228.55 633.55,226.62 637.00,226.50 C640.45,226.38 643.93,227.38 647.40,228.10 C650.87,228.82 654.32,229.93 657.80,230.80 C661.28,231.67 664.82,232.88 668.30,233.30 C671.78,233.72 675.23,233.22 678.70,233.30 C682.17,233.38 685.88,233.87 689.10,233.80 C692.32,233.73 696.52,233.05 698.00,232.90 L698.00,249.00 C696.52,248.88 692.32,248.20 689.10,248.30 C685.88,248.40 682.87,248.97 678.70,249.60 C674.53,250.23 667.92,251.17 664.10,252.10 C660.28,253.03 658.58,254.92 655.80,255.20 C653.02,255.48 650.53,254.32 647.40,253.80 C644.27,253.28 640.45,253.33 637.00,252.10 C633.55,250.87 630.10,247.72 626.70,246.40 C623.30,245.08 619.95,244.62 616.60,244.20 C613.25,243.78 609.67,243.90 606.60,243.90 C603.53,243.90 601.00,243.78 598.20,244.20 C595.40,244.62 592.60,245.67 589.80,246.40 C587.00,247.13 584.20,247.90 581.40,248.60 C578.60,249.30 575.93,250.97 573.00,250.60 C570.07,250.23 566.47,247.52 563.80,246.40 C561.13,245.28 558.68,245.02 557.00,243.90 C555.32,242.78 555.37,240.40 553.70,239.70 C552.03,239.00 549.23,239.33 547.00,239.70 C544.77,240.07 542.55,241.48 540.30,241.90 C538.05,242.32 535.75,242.15 533.50,242.20 C531.25,242.25 529.03,241.63 526.80,242.20 C524.57,242.77 522.50,244.62 520.10,245.60 C517.70,246.58 513.68,247.68 512.40,248.10 Z" fill="#BDF8BD" stroke="#5F905F" stroke-width="0.75"/>
<path d="M506.60,240.50 C507.60,240.37 510.35,240.12 512.60,239.70 C514.85,239.28 517.73,238.98 520.10,238.00 C522.47,237.02 524.70,234.35 526.80,233.80 C528.90,233.25 530.73,234.83 532.70,234.70 C534.67,234.57 536.50,233.70 538.60,233.00 C540.70,232.30 543.07,230.78 545.30,230.50 C547.53,230.22 550.05,230.47 552.00,231.30 C553.95,232.13 554.77,234.38 557.00,235.50 C559.23,236.62 562.73,236.88 565.40,238.00 C568.07,239.12 570.33,241.55 573.00,242.20 C575.67,242.85 578.60,242.45 581.40,241.90 C584.20,241.35 587.00,239.63 589.80,238.90 C592.60,238.17 595.40,238.02 598.20,237.50 C601.00,236.98 603.53,236.00 606.60,235.80 C609.67,235.60 613.25,235.93 616.60,236.30 C619.95,236.67 623.30,237.28 626.70,238.00 C630.10,238.72 633.90,239.98 637.00,240.60 C640.10,241.22 642.35,241.35 645.30,241.70 C648.25,242.05 651.57,242.77 654.70,242.70 C657.83,242.63 660.10,241.65 664.10,241.30 C668.10,240.95 673.05,240.53 678.70,240.60 C684.35,240.67 694.78,241.52 698.00,241.70" stroke="#1EC81E" stroke-width="2.0" fill="none" stroke-linejoin="round" stroke-linecap="round" />
<line x1="556.2" y1="215.0" x2="556.2" y2="262.2" stroke="#111" stroke-width="1.3" stroke-dasharray="4.4,3.9" stroke-dashoffset="2.8"/>
</g>
<rect x="39.5" y="14.3" width="184.9" height="136.7" fill="none" stroke="#000" stroke-width="1.1"/>
<path d="M39.50,14.3v-1.2 M39.50,151.0v1.2 M57.99,14.3v-1.2 M57.99,151.0v1.2 M76.48,14.3v-1.2 M76.48,151.0v1.2 M94.97,14.3v-1.2 M94.97,151.0v1.2 M113.46,14.3v-1.2 M113.46,151.0v1.2 M131.95,14.3v-1.2 M131.95,151.0v1.2 M150.44,14.3v-1.2 M150.44,151.0v1.2 M168.93,14.3v-1.2 M168.93,151.0v1.2 M187.42,14.3v-1.2 M187.42,151.0v1.2 M205.91,14.3v-1.2 M205.91,151.0v1.2 M224.40,14.3v-1.2 M224.40,151.0v1.2 M39.50,14.3v-2.5 M39.50,151.0v2.5 M131.95,14.3v-2.5 M131.95,151.0v2.5 M224.40,14.3v-2.5 M224.40,151.0v2.5 M39.5,149.46h-1.2 M224.4,149.46h1.2 M39.5,141.43h-1.2 M224.4,141.43h1.2 M39.5,133.40h-1.2 M224.4,133.40h1.2 M39.5,125.37h-1.2 M224.4,125.37h1.2 M39.5,117.34h-1.2 M224.4,117.34h1.2 M39.5,109.31h-1.2 M224.4,109.31h1.2 M39.5,101.28h-1.2 M224.4,101.28h1.2 M39.5,93.25h-1.2 M224.4,93.25h1.2 M39.5,85.22h-1.2 M224.4,85.22h1.2 M39.5,77.19h-1.2 M224.4,77.19h1.2 M39.5,69.16h-1.2 M224.4,69.16h1.2 M39.5,61.13h-1.2 M224.4,61.13h1.2 M39.5,53.10h-1.2 M224.4,53.10h1.2 M39.5,45.07h-1.2 M224.4,45.07h1.2 M39.5,37.04h-1.2 M224.4,37.04h1.2 M39.5,29.01h-1.2 M224.4,29.01h1.2 M39.5,20.98h-1.2 M224.4,20.98h1.2 M39.5,53.10h-2.5 M224.4,53.10h2.5 M39.5,93.25h-2.5 M224.4,93.25h2.5 M39.5,133.40h-2.5 M224.4,133.40h2.5" stroke="#000" stroke-width="1" fill="none"/>
<rect x="271.4" y="14.3" width="190.0" height="136.7" fill="none" stroke="#000" stroke-width="1.1"/>
<path d="M271.40,14.3v-1.2 M271.40,151.0v1.2 M280.90,14.3v-1.2 M280.90,151.0v1.2 M290.40,14.3v-1.2 M290.40,151.0v1.2 M299.90,14.3v-1.2 M299.90,151.0v1.2 M309.40,14.3v-1.2 M309.40,151.0v1.2 M318.90,14.3v-1.2 M318.90,151.0v1.2 M328.40,14.3v-1.2 M328.40,151.0v1.2 M337.90,14.3v-1.2 M337.90,151.0v1.2 M347.40,14.3v-1.2 M347.40,151.0v1.2 M356.90,14.3v-1.2 M356.90,151.0v1.2 M366.40,14.3v-1.2 M366.40,151.0v1.2 M375.90,14.3v-1.2 M375.90,151.0v1.2 M385.40,14.3v-1.2 M385.40,151.0v1.2 M394.90,14.3v-1.2 M394.90,151.0v1.2 M404.40,14.3v-1.2 M404.40,151.0v1.2 M413.90,14.3v-1.2 M413.90,151.0v1.2 M423.40,14.3v-1.2 M423.40,151.0v1.2 M432.90,14.3v-1.2 M432.90,151.0v1.2 M442.40,14.3v-1.2 M442.40,151.0v1.2 M451.90,14.3v-1.2 M451.90,151.0v1.2 M461.40,14.3v-1.2 M461.40,151.0v1.2 M271.40,14.3v-2.5 M271.40,151.0v2.5 M309.40,14.3v-2.5 M309.40,151.0v2.5 M347.40,14.3v-2.5 M347.40,151.0v2.5 M385.40,14.3v-2.5 M385.40,151.0v2.5 M423.40,14.3v-2.5 M423.40,151.0v2.5 M461.40,14.3v-2.5 M461.40,151.0v2.5 M271.4,151.00h-1.2 M461.4,151.00h1.2 M271.4,142.96h-1.2 M461.4,142.96h1.2 M271.4,134.92h-1.2 M461.4,134.92h1.2 M271.4,126.88h-1.2 M461.4,126.88h1.2 M271.4,118.84h-1.2 M461.4,118.84h1.2 M271.4,110.80h-1.2 M461.4,110.80h1.2 M271.4,102.76h-1.2 M461.4,102.76h1.2 M271.4,94.72h-1.2 M461.4,94.72h1.2 M271.4,86.68h-1.2 M461.4,86.68h1.2 M271.4,78.64h-1.2 M461.4,78.64h1.2 M271.4,70.60h-1.2 M461.4,70.60h1.2 M271.4,62.56h-1.2 M461.4,62.56h1.2 M271.4,54.52h-1.2 M461.4,54.52h1.2 M271.4,46.48h-1.2 M461.4,46.48h1.2 M271.4,38.44h-1.2 M461.4,38.44h1.2 M271.4,30.40h-1.2 M461.4,30.40h1.2 M271.4,22.36h-1.2 M461.4,22.36h1.2 M271.4,14.32h-1.2 M461.4,14.32h1.2 M271.4,151.00h-2.5 M461.4,151.00h2.5 M271.4,110.80h-2.5 M461.4,110.80h2.5 M271.4,70.60h-2.5 M461.4,70.60h2.5 M271.4,30.40h-2.5 M461.4,30.40h2.5" stroke="#000" stroke-width="1" fill="none"/>
<rect x="506.6" y="14.3" width="191.39999999999998" height="136.7" fill="none" stroke="#000" stroke-width="1.1"/>
<path d="M506.60,14.3v-1.2 M506.60,151.0v1.2 M516.17,14.3v-1.2 M516.17,151.0v1.2 M525.74,14.3v-1.2 M525.74,151.0v1.2 M535.31,14.3v-1.2 M535.31,151.0v1.2 M544.88,14.3v-1.2 M544.88,151.0v1.2 M554.45,14.3v-1.2 M554.45,151.0v1.2 M564.02,14.3v-1.2 M564.02,151.0v1.2 M573.59,14.3v-1.2 M573.59,151.0v1.2 M583.16,14.3v-1.2 M583.16,151.0v1.2 M592.73,14.3v-1.2 M592.73,151.0v1.2 M602.30,14.3v-1.2 M602.30,151.0v1.2 M611.87,14.3v-1.2 M611.87,151.0v1.2 M621.44,14.3v-1.2 M621.44,151.0v1.2 M631.01,14.3v-1.2 M631.01,151.0v1.2 M640.58,14.3v-1.2 M640.58,151.0v1.2 M650.15,14.3v-1.2 M650.15,151.0v1.2 M659.72,14.3v-1.2 M659.72,151.0v1.2 M669.29,14.3v-1.2 M669.29,151.0v1.2 M678.86,14.3v-1.2 M678.86,151.0v1.2 M688.43,14.3v-1.2 M688.43,151.0v1.2 M698.00,14.3v-1.2 M698.00,151.0v1.2 M506.60,14.3v-2.5 M506.60,151.0v2.5 M544.88,14.3v-2.5 M544.88,151.0v2.5 M583.16,14.3v-2.5 M583.16,151.0v2.5 M621.44,14.3v-2.5 M621.44,151.0v2.5 M659.72,14.3v-2.5 M659.72,151.0v2.5 M698.00,14.3v-2.5 M698.00,151.0v2.5 M506.6,147.25h-1.2 M698.0,147.25h1.2 M506.6,139.20h-1.2 M698.0,139.20h1.2 M506.6,131.15h-1.2 M698.0,131.15h1.2 M506.6,123.10h-1.2 M698.0,123.10h1.2 M506.6,115.05h-1.2 M698.0,115.05h1.2 M506.6,107.00h-1.2 M698.0,107.00h1.2 M506.6,98.95h-1.2 M698.0,98.95h1.2 M506.6,90.90h-1.2 M698.0,90.90h1.2 M506.6,82.85h-1.2 M698.0,82.85h1.2 M506.6,74.80h-1.2 M698.0,74.80h1.2 M506.6,66.75h-1.2 M698.0,66.75h1.2 M506.6,58.70h-1.2 M698.0,58.70h1.2 M506.6,50.65h-1.2 M698.0,50.65h1.2 M506.6,42.60h-1.2 M698.0,42.60h1.2 M506.6,34.55h-1.2 M698.0,34.55h1.2 M506.6,26.50h-1.2 M698.0,26.50h1.2 M506.6,18.45h-1.2 M698.0,18.45h1.2 M506.6,123.10h-2.5 M698.0,123.10h2.5 M506.6,82.85h-2.5 M698.0,82.85h2.5 M506.6,42.60h-2.5 M698.0,42.60h2.5" stroke="#000" stroke-width="1" fill="none"/>
<rect x="33.1" y="215.0" width="191.20000000000002" height="47.19999999999999" fill="none" stroke="#000" stroke-width="1.1"/>
<path d="M33.10,215.0v-1.2 M33.10,262.2v1.2 M42.66,215.0v-1.2 M42.66,262.2v1.2 M52.22,215.0v-1.2 M52.22,262.2v1.2 M61.78,215.0v-1.2 M61.78,262.2v1.2 M71.34,215.0v-1.2 M71.34,262.2v1.2 M80.90,215.0v-1.2 M80.90,262.2v1.2 M90.46,215.0v-1.2 M90.46,262.2v1.2 M100.02,215.0v-1.2 M100.02,262.2v1.2 M109.58,215.0v-1.2 M109.58,262.2v1.2 M119.14,215.0v-1.2 M119.14,262.2v1.2 M128.70,215.0v-1.2 M128.70,262.2v1.2 M138.26,215.0v-1.2 M138.26,262.2v1.2 M147.82,215.0v-1.2 M147.82,262.2v1.2 M157.38,215.0v-1.2 M157.38,262.2v1.2 M166.94,215.0v-1.2 M166.94,262.2v1.2 M176.50,215.0v-1.2 M176.50,262.2v1.2 M186.06,215.0v-1.2 M186.06,262.2v1.2 M195.62,215.0v-1.2 M195.62,262.2v1.2 M205.18,215.0v-1.2 M205.18,262.2v1.2 M214.74,215.0v-1.2 M214.74,262.2v1.2 M224.30,215.0v-1.2 M224.30,262.2v1.2 M33.10,215.0v-2.5 M33.10,262.2v2.5 M71.34,215.0v-2.5 M71.34,262.2v2.5 M109.58,215.0v-2.5 M109.58,262.2v2.5 M147.82,215.0v-2.5 M147.82,262.2v2.5 M186.06,215.0v-2.5 M186.06,262.2v2.5 M224.30,215.0v-2.5 M224.30,262.2v2.5 M33.1,262.10h-1.2 M224.3,262.10h1.2 M33.1,260.20h-1.2 M224.3,260.20h1.2 M33.1,258.30h-1.2 M224.3,258.30h1.2 M33.1,256.40h-1.2 M224.3,256.40h1.2 M33.1,254.50h-1.2 M224.3,254.50h1.2 M33.1,252.60h-1.2 M224.3,252.60h1.2 M33.1,250.70h-1.2 M224.3,250.70h1.2 M33.1,248.80h-1.2 M224.3,248.80h1.2 M33.1,246.90h-1.2 M224.3,246.90h1.2 M33.1,245.00h-1.2 M224.3,245.00h1.2 M33.1,243.10h-1.2 M224.3,243.10h1.2 M33.1,241.20h-1.2 M224.3,241.20h1.2 M33.1,239.30h-1.2 M224.3,239.30h1.2 M33.1,237.40h-1.2 M224.3,237.40h1.2 M33.1,235.50h-1.2 M224.3,235.50h1.2 M33.1,233.60h-1.2 M224.3,233.60h1.2 M33.1,231.70h-1.2 M224.3,231.70h1.2 M33.1,229.80h-1.2 M224.3,229.80h1.2 M33.1,227.90h-1.2 M224.3,227.90h1.2 M33.1,226.00h-1.2 M224.3,226.00h1.2 M33.1,224.10h-1.2 M224.3,224.10h1.2 M33.1,222.20h-1.2 M224.3,222.20h1.2 M33.1,220.30h-1.2 M224.3,220.30h1.2 M33.1,218.40h-1.2 M224.3,218.40h1.2 M33.1,216.50h-1.2 M224.3,216.50h1.2 M33.1,220.30h-2.5 M224.3,220.30h2.5 M33.1,229.80h-2.5 M224.3,229.80h2.5 M33.1,239.30h-2.5 M224.3,239.30h2.5 M33.1,248.80h-2.5 M224.3,248.80h2.5 M33.1,258.30h-2.5 M224.3,258.30h2.5" stroke="#000" stroke-width="1" fill="none"/>
<rect x="269.9" y="215.0" width="191.5" height="47.19999999999999" fill="none" stroke="#000" stroke-width="1.1"/>
<path d="M269.90,215.0v-1.2 M269.90,262.2v1.2 M279.47,215.0v-1.2 M279.47,262.2v1.2 M289.05,215.0v-1.2 M289.05,262.2v1.2 M298.62,215.0v-1.2 M298.62,262.2v1.2 M308.20,215.0v-1.2 M308.20,262.2v1.2 M317.77,215.0v-1.2 M317.77,262.2v1.2 M327.35,215.0v-1.2 M327.35,262.2v1.2 M336.92,215.0v-1.2 M336.92,262.2v1.2 M346.50,215.0v-1.2 M346.50,262.2v1.2 M356.07,215.0v-1.2 M356.07,262.2v1.2 M365.65,215.0v-1.2 M365.65,262.2v1.2 M375.22,215.0v-1.2 M375.22,262.2v1.2 M384.80,215.0v-1.2 M384.80,262.2v1.2 M394.38,215.0v-1.2 M394.38,262.2v1.2 M403.95,215.0v-1.2 M403.95,262.2v1.2 M413.52,215.0v-1.2 M413.52,262.2v1.2 M423.10,215.0v-1.2 M423.10,262.2v1.2 M432.67,215.0v-1.2 M432.67,262.2v1.2 M442.25,215.0v-1.2 M442.25,262.2v1.2 M451.82,215.0v-1.2 M451.82,262.2v1.2 M461.40,215.0v-1.2 M461.40,262.2v1.2 M269.90,215.0v-2.5 M269.90,262.2v2.5 M308.20,215.0v-2.5 M308.20,262.2v2.5 M346.50,215.0v-2.5 M346.50,262.2v2.5 M384.80,215.0v-2.5 M384.80,262.2v2.5 M423.10,215.0v-2.5 M423.10,262.2v2.5 M461.40,215.0v-2.5 M461.40,262.2v2.5 M269.9,262.20h-1.2 M461.4,262.20h1.2 M269.9,257.55h-1.2 M461.4,257.55h1.2 M269.9,252.90h-1.2 M461.4,252.90h1.2 M269.9,248.25h-1.2 M461.4,248.25h1.2 M269.9,243.60h-1.2 M461.4,243.60h1.2 M269.9,238.95h-1.2 M461.4,238.95h1.2 M269.9,234.30h-1.2 M461.4,234.30h1.2 M269.9,229.65h-1.2 M461.4,229.65h1.2 M269.9,225.00h-1.2 M461.4,225.00h1.2 M269.9,220.35h-1.2 M461.4,220.35h1.2 M269.9,215.70h-1.2 M461.4,215.70h1.2 M269.9,225.00h-2.5 M461.4,225.00h2.5 M269.9,243.60h-2.5 M461.4,243.60h2.5 M269.9,262.20h-2.5 M461.4,262.20h2.5" stroke="#000" stroke-width="1" fill="none"/>
<rect x="506.6" y="215.0" width="191.39999999999998" height="47.19999999999999" fill="none" stroke="#000" stroke-width="1.1"/>
<path d="M506.60,215.0v-1.2 M506.60,262.2v1.2 M516.17,215.0v-1.2 M516.17,262.2v1.2 M525.74,215.0v-1.2 M525.74,262.2v1.2 M535.31,215.0v-1.2 M535.31,262.2v1.2 M544.88,215.0v-1.2 M544.88,262.2v1.2 M554.45,215.0v-1.2 M554.45,262.2v1.2 M564.02,215.0v-1.2 M564.02,262.2v1.2 M573.59,215.0v-1.2 M573.59,262.2v1.2 M583.16,215.0v-1.2 M583.16,262.2v1.2 M592.73,215.0v-1.2 M592.73,262.2v1.2 M602.30,215.0v-1.2 M602.30,262.2v1.2 M611.87,215.0v-1.2 M611.87,262.2v1.2 M621.44,215.0v-1.2 M621.44,262.2v1.2 M631.01,215.0v-1.2 M631.01,262.2v1.2 M640.58,215.0v-1.2 M640.58,262.2v1.2 M650.15,215.0v-1.2 M650.15,262.2v1.2 M659.72,215.0v-1.2 M659.72,262.2v1.2 M669.29,215.0v-1.2 M669.29,262.2v1.2 M678.86,215.0v-1.2 M678.86,262.2v1.2 M688.43,215.0v-1.2 M688.43,262.2v1.2 M698.00,215.0v-1.2 M698.00,262.2v1.2 M506.60,215.0v-2.5 M506.60,262.2v2.5 M544.88,215.0v-2.5 M544.88,262.2v2.5 M583.16,215.0v-2.5 M583.16,262.2v2.5 M621.44,215.0v-2.5 M621.44,262.2v2.5 M659.72,215.0v-2.5 M659.72,262.2v2.5 M698.00,215.0v-2.5 M698.00,262.2v2.5 M506.6,262.50h-1.2 M698.0,262.50h1.2 M506.6,257.80h-1.2 M698.0,257.80h1.2 M506.6,253.10h-1.2 M698.0,253.10h1.2 M506.6,248.40h-1.2 M698.0,248.40h1.2 M506.6,243.70h-1.2 M698.0,243.70h1.2 M506.6,239.00h-1.2 M698.0,239.00h1.2 M506.6,234.30h-1.2 M698.0,234.30h1.2 M506.6,229.60h-1.2 M698.0,229.60h1.2 M506.6,224.90h-1.2 M698.0,224.90h1.2 M506.6,220.20h-1.2 M698.0,220.20h1.2 M506.6,215.50h-1.2 M698.0,215.50h1.2 M506.6,220.20h-2.5 M698.0,220.20h2.5 M506.6,239.00h-2.5 M698.0,239.00h2.5 M506.6,257.80h-2.5 M698.0,257.80h2.5" stroke="#000" stroke-width="1" fill="none"/>
<rect x="611.4" y="14.3" width="86.6" height="60.2" fill="#fff" stroke="#000" stroke-width="1"/>
<line x1="613" y1="22.1" x2="631" y2="22.1" stroke="#0A6CB2" stroke-width="2"/>
<line x1="613" y1="36" x2="631" y2="36" stroke="#D45A24" stroke-width="2"/>
<line x1="613" y1="51" x2="631" y2="51" stroke="#E8B133" stroke-width="2"/>
<line x1="613.4" y1="66.4" x2="627" y2="66.4" stroke="#111" stroke-width="1.4" stroke-dasharray="4.4,4.4"/>
<rect x="648.5" y="215" width="49.5" height="17.3" fill="#fff" stroke="#000" stroke-width="1"/>
<line x1="650.5" y1="224" x2="667.2" y2="224" stroke="#1EC81E" stroke-width="2.2"/>
<text x="130.8" y="7.8" font-size="10.8" text-anchor="middle" font-family="Liberation Serif" fill="#262626"  textLength="43.2" lengthAdjust="spacingAndGlyphs">hip torque</text>
<text x="367.9" y="7.8" font-size="10.8" text-anchor="middle" font-family="Liberation Serif" fill="#262626"  textLength="49.8" lengthAdjust="spacingAndGlyphs">knee torque</text>
<text x="603.8" y="7.8" font-size="10.8" text-anchor="middle" font-family="Liberation Serif" fill="#262626"  textLength="52.6" lengthAdjust="spacingAndGlyphs">ankle torque</text>
<text x="130.7" y="208.8" font-size="10.8" text-anchor="middle" font-family="Liberation Serif" fill="#262626"  textLength="66.2" lengthAdjust="spacingAndGlyphs">hip torque error</text>
<text x="367.4" y="208.8" font-size="10.8" text-anchor="middle" font-family="Liberation Serif" fill="#262626"  textLength="73.2" lengthAdjust="spacingAndGlyphs">knee torque error</text>
<text x="603.5" y="208.8" font-size="10.8" text-anchor="middle" font-family="Liberation Serif" fill="#262626"  textLength="76.4" lengthAdjust="spacingAndGlyphs">ankle torque error</text>
<text x="2.3" y="17.6" font-size="26" font-weight="bold" font-family="Liberation Serif" fill="#262626">a</text>
<text x="241.8" y="17.6" font-size="26" font-weight="bold" font-family="Liberation Serif" fill="#262626">b</text>
<text x="476" y="17.8" font-size="26" font-weight="bold" font-family="Liberation Serif" fill="#262626">c</text>
<text x="1.5" y="203.3" font-size="26" font-weight="bold" font-family="Liberation Serif" fill="#262626">d</text>
<text x="240.5" y="204.0" font-size="26" font-weight="bold" font-family="Liberation Serif" fill="#262626">e</text>
<text x="477.4" y="204.0" font-size="26" font-weight="bold" font-family="Liberation Serif" fill="#262626">f</text>
<text x="39.5" y="168" font-size="13" text-anchor="middle" font-family="Liberation Serif" fill="#262626" >0</text>
<text x="131.95" y="168" font-size="13" text-anchor="middle" font-family="Liberation Serif" fill="#262626" >50</text>
<text x="224.4" y="168" font-size="13" text-anchor="middle" font-family="Liberation Serif" fill="#262626" >100</text>
<text x="35.0" y="57.300000000000004" font-size="13" text-anchor="end" font-family="Liberation Serif" fill="#262626" >0</text>
<text x="35.0" y="97.45" font-size="13" text-anchor="end" font-family="Liberation Serif" fill="#262626" >-5</text>
<text x="35.0" y="137.6" font-size="13" text-anchor="end" font-family="Liberation Serif" fill="#262626" >-10</text>
<text x="271.4" y="168" font-size="13" text-anchor="middle" font-family="Liberation Serif" fill="#262626" >0</text>
<text x="506.6" y="168" font-size="13" text-anchor="middle" font-family="Liberation Serif" fill="#262626" >0</text>
<text x="33.1" y="279.5" font-size="13" text-anchor="middle" font-family="Liberation Serif" fill="#262626" >0</text>
<text x="269.9" y="279.5" font-size="13" text-anchor="middle" font-family="Liberation Serif" fill="#262626" >0</text>
<text x="506.6" y="279.5" font-size="13" text-anchor="middle" font-family="Liberation Serif" fill="#262626" >0</text>
<text x="309.4" y="168" font-size="13" text-anchor="middle" font-family="Liberation Serif" fill="#262626" >20</text>
<text x="544.88" y="168" font-size="13" text-anchor="middle" font-family="Liberation Serif" fill="#262626" >20</text>
<text x="71.34" y="279.5" font-size="13" text-anchor="middle" font-family="Liberation Serif" fill="#262626" >20</text>
<text x="308.2" y="279.5" font-size="13" text-anchor="middle" font-family="Liberation Serif" fill="#262626" >20</text>
<text x="544.88" y="279.5" font-size="13" text-anchor="middle" font-family="Liberation Serif" fill="#262626" >20</text>
<text x="347.4" y="168" font-size="13" text-anchor="middle" font-family="Liberation Serif" fill="#262626" >40</text>
<text x="583.16" y="168" font-size="13" text-anchor="middle" font-family="Liberation Serif" fill="#262626" >40</text>
<text x="109.58000000000001" y="279.5" font-size="13" text-anchor="middle" font-family="Liberation Serif" fill="#262626" >40</text>
<text x="346.5" y="279.5" font-size="13" text-anchor="middle" font-family="Liberation Serif" fill="#262626" >40</text>
<text x="583.16" y="279.5" font-size="13" text-anchor="middle" font-family="Liberation Serif" fill="#262626" >40</text>
<text x="385.4" y="168" font-size="13" text-anchor="middle" font-family="Liberation Serif" fill="#262626" >60</text>
<text x="621.44" y="168" font-size="13" text-anchor="middle" font-family="Liberation Serif" fill="#262626" >60</text>
<text x="147.82000000000002" y="279.5" font-size="13" text-anchor="middle" font-family="Liberation Serif" fill="#262626" >60</text>
<text x="384.79999999999995" y="279.5" font-size="13" text-anchor="middle" font-family="Liberation Serif" fill="#262626" >60</text>
<text x="621.44" y="279.5" font-size="13" text-anchor="middle" font-family="Liberation Serif" fill="#262626" >60</text>
<text x="423.4" y="168" font-size="13" text-anchor="middle" font-family="Liberation Serif" fill="#262626" >80</text>
<text x="659.72" y="168" font-size="13" text-anchor="middle" font-family="Liberation Serif" fill="#262626" >80</text>
<text x="186.06" y="279.5" font-size="13" text-anchor="middle" font-family="Liberation Serif" fill="#262626" >80</text>
<text x="423.09999999999997" y="279.5" font-size="13" text-anchor="middle" font-family="Liberation Serif" fill="#262626" >80</text>
<text x="659.72" y="279.5" font-size="13" text-anchor="middle" font-family="Liberation Serif" fill="#262626" >80</text>
<text x="461.4" y="168" font-size="13" text-anchor="middle" font-family="Liberation Serif" fill="#262626" >100</text>
<text x="698.0" y="168" font-size="13" text-anchor="middle" font-family="Liberation Serif" fill="#262626" >100</text>
<text x="224.3" y="279.5" font-size="13" text-anchor="middle" font-family="Liberation Serif" fill="#262626" >100</text>
<text x="461.4" y="279.5" font-size="13" text-anchor="middle" font-family="Liberation Serif" fill="#262626" >100</text>
<text x="698.0" y="279.5" font-size="13" text-anchor="middle" font-family="Liberation Serif" fill="#262626" >100</text>
<text x="266.9" y="34.60000000000001" font-size="13" text-anchor="end" font-family="Liberation Serif" fill="#262626" >10</text>
<text x="266.9" y="74.8" font-size="13" text-anchor="end" font-family="Liberation Serif" fill="#262626" >5</text>
<text x="266.9" y="115.0" font-size="13" text-anchor="end" font-family="Liberation Serif" fill="#262626" >0</text>
<text x="266.9" y="155.2" font-size="13" text-anchor="end" font-family="Liberation Serif" fill="#262626" >-5</text>
<text x="502.1" y="46.8" font-size="13" text-anchor="end" font-family="Liberation Serif" fill="#262626" >5</text>
<text x="502.1" y="87.05" font-size="13" text-anchor="end" font-family="Liberation Serif" fill="#262626" >0</text>
<text x="502.1" y="127.3" font-size="13" text-anchor="end" font-family="Liberation Serif" fill="#262626" >-5</text>
<g transform="translate(27.30,224.60) scale(0.78,1)"><text x="0" y="0" font-size="13" text-anchor="end" font-family="Liberation Serif" fill="#262626">1</text></g>
<g transform="translate(27.30,234.10) scale(0.78,1)"><text x="0" y="0" font-size="13" text-anchor="end" font-family="Liberation Serif" fill="#262626">0</text></g>
<g transform="translate(27.30,243.60) scale(0.78,1)"><text x="0" y="0" font-size="13" text-anchor="end" font-family="Liberation Serif" fill="#262626">-1</text></g>
<g transform="translate(27.30,253.10) scale(0.78,1)"><text x="0" y="0" font-size="13" text-anchor="end" font-family="Liberation Serif" fill="#262626">-2</text></g>
<g transform="translate(27.30,262.60) scale(0.78,1)"><text x="0" y="0" font-size="13" text-anchor="end" font-family="Liberation Serif" fill="#262626">-3</text></g>
<text x="264.4" y="229.2" font-size="13" text-anchor="end" font-family="Liberation Serif" fill="#262626" >2</text>
<text x="264.4" y="247.79999999999998" font-size="13" text-anchor="end" font-family="Liberation Serif" fill="#262626" >0</text>
<text x="264.4" y="266.4" font-size="13" text-anchor="end" font-family="Liberation Serif" fill="#262626" >-2</text>
<text x="501.1" y="224.39999999999998" font-size="13" text-anchor="end" font-family="Liberation Serif" fill="#262626" >2</text>
<text x="501.1" y="243.2" font-size="13" text-anchor="end" font-family="Liberation Serif" fill="#262626" >0</text>
<text x="501.1" y="262.0" font-size="13" text-anchor="end" font-family="Liberation Serif" fill="#262626" >-2</text>
<text x="131.95" y="183.1" font-size="14" text-anchor="middle" font-family="Liberation Serif" fill="#262626"  textLength="190.6" lengthAdjust="spacingAndGlyphs">percentage of STS movement [-]</text>
<text x="366.4" y="183.1" font-size="14" text-anchor="middle" font-family="Liberation Serif" fill="#262626"  textLength="190.6" lengthAdjust="spacingAndGlyphs">percentage of STS movement [-]</text>
<text x="602.3" y="183.1" font-size="14" text-anchor="middle" font-family="Liberation Serif" fill="#262626"  textLength="190.6" lengthAdjust="spacingAndGlyphs">percentage of STS movement [-]</text>
<text x="128.70000000000002" y="294.5" font-size="14" text-anchor="middle" font-family="Liberation Serif" fill="#262626"  textLength="190" lengthAdjust="spacingAndGlyphs">percentage of STS movement [-]</text>
<text x="365.65" y="294.5" font-size="14" text-anchor="middle" font-family="Liberation Serif" fill="#262626"  textLength="190" lengthAdjust="spacingAndGlyphs">percentage of STS movement [-]</text>
<text x="602.3" y="294.5" font-size="14" text-anchor="middle" font-family="Liberation Serif" fill="#262626"  textLength="190" lengthAdjust="spacingAndGlyphs">percentage of STS movement [-]</text>
<g transform="translate(10.8,83) rotate(-90)"><text x="-7.6" y="0" font-size="14.5" font-family="Liberation Serif" fill="#262626" textLength="27.6" lengthAdjust="spacingAndGlyphs">[Nm]</text><path d="M-17.8,-4.3 Q-16.3,-6.6 -14.5,-6.6 L-9.8,-6.6 M-13.0,-6.6 L-13.9,-1.0 Q-14.2,0.2 -15.0,-0.2" fill="none" stroke="#262626" stroke-width="1.15" stroke-linecap="round"/></g>
<g transform="translate(246.8,83) rotate(-90)"><text x="-7.6" y="0" font-size="14.5" font-family="Liberation Serif" fill="#262626" textLength="27.6" lengthAdjust="spacingAndGlyphs">[Nm]</text><path d="M-17.8,-4.3 Q-16.3,-6.6 -14.5,-6.6 L-9.8,-6.6 M-13.0,-6.6 L-13.9,-1.0 Q-14.2,0.2 -15.0,-0.2" fill="none" stroke="#262626" stroke-width="1.15" stroke-linecap="round"/></g>
<g transform="translate(483.8,83) rotate(-90)"><text x="-7.6" y="0" font-size="14.5" font-family="Liberation Serif" fill="#262626" textLength="27.6" lengthAdjust="spacingAndGlyphs">[Nm]</text><path d="M-17.8,-4.3 Q-16.3,-6.6 -14.5,-6.6 L-9.8,-6.6 M-13.0,-6.6 L-13.9,-1.0 Q-14.2,0.2 -15.0,-0.2" fill="none" stroke="#262626" stroke-width="1.15" stroke-linecap="round"/></g>
<g transform="translate(10.8,239) rotate(-90)"><text x="0" y="0" font-size="14.5" text-anchor="middle" font-family="Liberation Serif" fill="#262626" textLength="60" lengthAdjust="spacingAndGlyphs"><tspan font-style="italic">τ</tspan><tspan font-style="italic" font-size="10.5" dy="2.5">error</tspan><tspan dy="-2.5"> [Nm]</tspan></text></g>
<g transform="translate(247.3,239) rotate(-90)"><text x="0" y="0" font-size="14.5" text-anchor="middle" font-family="Liberation Serif" fill="#262626" textLength="60" lengthAdjust="spacingAndGlyphs"><tspan font-style="italic">τ</tspan><tspan font-style="italic" font-size="10.5" dy="2.5">error</tspan><tspan dy="-2.5"> [Nm]</tspan></text></g>
<g transform="translate(483.9,239) rotate(-90)"><text x="0" y="0" font-size="14.5" text-anchor="middle" font-family="Liberation Serif" fill="#262626" textLength="60" lengthAdjust="spacingAndGlyphs"><tspan font-style="italic">τ</tspan><tspan font-style="italic" font-size="10.5" dy="2.5">error</tspan><tspan dy="-2.5"> [Nm]</tspan></text></g>
<path d="M633.30,22.59 Q634.42,21.30 635.87,21.30 L639.70,21.30 M637.06,21.30 L636.27,24.90 Q636.00,25.70 635.48,25.40" fill="none" stroke="#111" stroke-width="0.95" stroke-linecap="round"/>
<text x="639.9" y="26.9" font-size="9.5" font-family="Liberation Serif" fill="#262626" font-style="italic" textLength="10.2" lengthAdjust="spacingAndGlyphs" >dyn</text>
<text x="653.8" y="27.4" font-size="13" font-family="Liberation Serif" fill="#262626" textLength="7.8" lengthAdjust="spacingAndGlyphs" >=</text>
<path d="M666.10,22.59 Q667.06,21.30 668.34,21.30 L671.70,21.30 M669.38,21.30 L668.68,24.90 Q668.45,25.70 667.99,25.40" fill="none" stroke="#111" stroke-width="0.95" stroke-linecap="round"/>
<text x="671.0" y="27.0" font-size="9.5" font-family="Liberation Serif" fill="#262626" font-style="italic" textLength="24.8" lengthAdjust="spacingAndGlyphs" >des,spr</text>
<path d="M633.20,35.49 Q634.24,34.20 635.60,34.20 L639.20,34.20 M636.72,34.20 L635.98,37.80 Q635.73,38.60 635.23,38.30" fill="none" stroke="#111" stroke-width="0.95" stroke-linecap="round"/>
<path d="M634.4,33.2 L636.0,31.7 L637.6,33.2" fill="none" stroke="#000" stroke-width="0.8"/>
<text x="638.4" y="39.6" font-size="9.5" font-family="Liberation Serif" fill="#262626" font-style="italic" textLength="10.4" lengthAdjust="spacingAndGlyphs" >spr</text>
<text x="632.8" y="56.1" font-size="12.5" font-family="Liberation Serif" fill="#262626" font-style="italic" textLength="7.6" lengthAdjust="spacingAndGlyphs" >B</text>
<path d="M635.6,46.6 L637.1,45.2 L638.6,46.6" fill="none" stroke="#000" stroke-width="0.8"/>
<text x="640.2" y="57.7" font-size="9.5" font-family="Liberation Serif" fill="#262626" font-style="italic" textLength="14.6" lengthAdjust="spacingAndGlyphs" >mot</text>
<text x="655.0" y="55.3" font-size="11.2" font-family="Liberation Serif" fill="#262626" font-style="italic" textLength="5.6" lengthAdjust="spacingAndGlyphs" >θ</text>
<circle cx="657.6" cy="46.3" r="0.62" fill="#222"/><circle cx="660.1" cy="46.3" r="0.62" fill="#222"/>
<path d="M656.2,44.3 L657.6,42.9 L659.0,44.3" fill="none" stroke="#222" stroke-width="0.7"/>
<text x="632.6" y="70.0" font-size="12.2" font-family="Liberation Serif" fill="#262626" textLength="34.7" lengthAdjust="spacingAndGlyphs" >seat-off</text>
<path d="M669.50,223.10 Q670.50,221.60 671.82,221.60 L675.30,221.60 M672.90,221.60 L672.18,225.90 Q671.94,226.70 671.46,226.40" fill="none" stroke="#111" stroke-width="0.95" stroke-linecap="round"/>
<text x="674.6" y="228.9" font-size="9.5" font-family="Liberation Serif" fill="#262626" font-style="italic" textLength="20.2" lengthAdjust="spacingAndGlyphs" >error</text>
</svg></body></html>
